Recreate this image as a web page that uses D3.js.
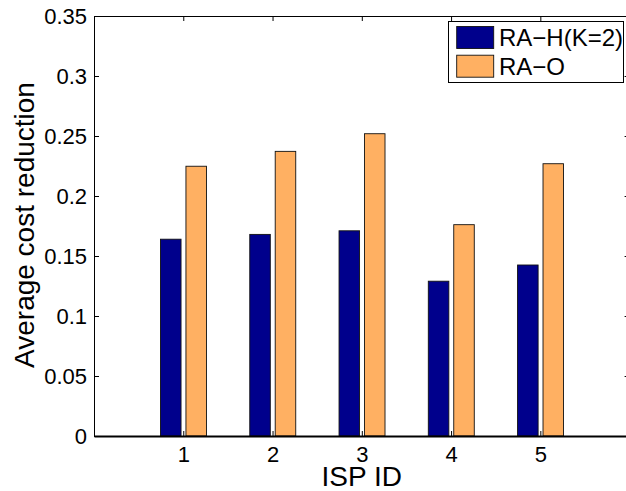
<!DOCTYPE html>
<html>
<head>
<meta charset="utf-8">
<script src="https://cdn.jsdelivr.net/npm/d3@7"></script>
<style>
  html, body { margin: 0; padding: 0; background: #fff; }
  svg { display: block; font-family: "Liberation Sans", Arial, sans-serif; }
</style>
</head>
<body>
<svg id="chart" width="626" height="491"></svg>
<script>
// ISP identifiers and the average cost reduction of each scheme
const ispIds = [1, 2, 3, 4, 5];
const raH = [0.164, 0.168, 0.171, 0.129, 0.1425];
const raO = [0.2248, 0.2372, 0.2519, 0.1761, 0.2269];
const seriesNames = ["RA\u2212H(K=2)", "RA\u2212O"];
const seriesColors = ["#00008c", "#ffb062"];
const xTickLabels = ["1", "2", "3", "4", "5"];
const yTicks = [0, 0.05, 0.1, 0.15, 0.2, 0.25, 0.3, 0.35];
const yTickLabels = ["0", "0.05", "0.1", "0.15", "0.2", "0.25", "0.3", "0.35"];

const svg = d3.select("#chart");
const plotLeft = 94, plotRight = 629.6, plotTop = 16, plotBottom = 436;

const x = d3.scaleLinear().domain([0, 6]).range([plotLeft, plotRight]);
const y = d3.scaleLinear().domain([0, 0.35]).range([plotBottom, plotTop]);

const unit = x(1) - x(0);
const barW = 0.23 * unit;
const offsets = [-0.14, 0.145];
const series = [raH, raO];

// bars
series.forEach((vals, si) => {
  svg.append("g").selectAll("rect")
    .data(vals)
    .join("rect")
    .attr("x", (d, i) => x(ispIds[i] + offsets[si]) - barW / 2)
    .attr("y", d => y(d))
    .attr("width", barW)
    .attr("height", d => y(0) - y(d))
    .attr("fill", seriesColors[si])
    .attr("stroke", "#111")
    .attr("stroke-width", 0.9);
});

// axes with inward ticks
const tickLen = 5;
const axB = svg.append("g").attr("transform", `translate(0,${plotBottom})`)
  .call(d3.axisBottom(x).tickValues(ispIds).tickSizeInner(-tickLen).tickSizeOuter(0)
    .tickFormat((d, i) => xTickLabels[i]));
const axT = svg.append("g").attr("transform", `translate(0,${plotTop})`)
  .call(d3.axisTop(x).tickValues(ispIds).tickSizeInner(-tickLen).tickSizeOuter(0).tickFormat(""));
const axL = svg.append("g").attr("transform", `translate(${plotLeft},0)`)
  .call(d3.axisLeft(y).tickValues(yTicks).tickSizeInner(-tickLen).tickSizeOuter(0)
    .tickFormat((d, i) => yTickLabels[i]));
const axR = svg.append("g").attr("transform", `translate(${plotRight},0)`)
  .call(d3.axisRight(y).tickValues(yTicks).tickSizeInner(-tickLen).tickSizeOuter(0).tickFormat(""));

[axB, axT, axL, axR].forEach(g => {
  g.selectAll(".domain").attr("stroke", "#000").attr("stroke-width", 1);
  g.selectAll(".tick line").attr("stroke", "#000").attr("stroke-width", 1);
  g.selectAll("text").attr("fill", "#000").style("font-size", "22px")
    .style("font-family", "'Liberation Sans', Arial, sans-serif");
});
axB.select(".domain").attr("stroke-width", 2.2);
axB.selectAll("text").attr("dy", null).attr("y", 25.8);
axL.selectAll("text").attr("x", -7).attr("dy", "0.35em");

// axis titles
svg.append("text")
  .attr("x", (plotLeft + plotRight) / 2).attr("y", 485.5)
  .attr("text-anchor", "middle")
  .style("font-size", "28px")
  .text("ISP ID");
svg.append("text")
  .attr("transform", `translate(33.5,${(plotTop + plotBottom) / 2 - 1}) rotate(-90)`)
  .attr("text-anchor", "middle")
  .style("font-size", "28px")
  .text("Average cost reduction");

// legend
const lg = svg.append("g");
lg.append("rect").attr("x", 448.5).attr("y", 21.5).attr("width", 175).attr("height", 61)
  .attr("fill", "#fff").attr("stroke", "#000").attr("stroke-width", 1);
seriesNames.forEach((name, i) => {
  const yy = 26.5 + i * 28.7;
  lg.append("rect").attr("x", 456.7).attr("y", yy).attr("width", 37).attr("height", 22)
    .attr("fill", seriesColors[i]).attr("stroke", "#111").attr("stroke-width", 0.9);
  lg.append("text").attr("x", 499).attr("y", 45.7 + i * 29.3)
    .style("font-size", "24px").text(name);
});
</script>
</body>
</html>
